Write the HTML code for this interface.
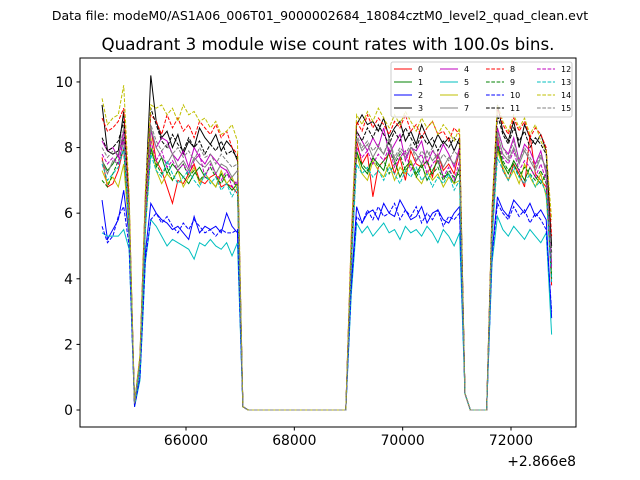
<!DOCTYPE html>
<html><head><meta charset="utf-8"><style>
body{margin:0;background:#fff}
svg{display:block;font-family:"DejaVu Sans","Liberation Sans",sans-serif}
</style></head><body>
<svg id="chart" width="640" height="480" viewBox="0 0 640 480">
<rect width="640" height="480" fill="#fff"/>
<text x="320" y="20" font-size="12.5" text-anchor="middle">Data file: modeM0/AS1A06_006T01_9000002684_18084cztM0_level2_quad_clean.evt</text>
<text x="328" y="50" font-size="16.7" text-anchor="middle">Quadrant 3 module wise count rates with 100.0s bins.</text>
<g id="plot"></g>
<rect x="80" y="58" width="496" height="369" fill="none" stroke="#000" stroke-width="1"/>
<g id="axes"></g>
<text x="576" y="466" font-size="13.9" text-anchor="end">+2.866e8</text>
<g id="legend"></g>
</svg>
<script>
const binStart = 64450;
const binWidth = 100;
const xTicks = [66000, 68000, 70000, 72000];
const xTickLabels = ["66000", "68000", "70000", "72000"];
const yTicks = [0, 2, 4, 6, 8, 10];
const yTickLabels = ["0", "2", "4", "6", "8", "10"];
const seriesNames = ["0","1","2","3","4","5","6","7","8","9","10","11","12","13","14","15"];
const s0 = [7.7,6.8,6.9,7.3,8.0,5.5,0.2,1.4,5.8,8.6,7.6,7.3,6.8,6.3,7.0,6.9,7.2,7.5,7.0,6.9,7.1,7.2,6.8,6.9,6.8,6.6,0.1,0,0,0,0,0,0,0,0,0,0,0,0,0,0,0,0,0,0,0,4.5,8.2,7.5,7.8,6.5,7.4,7.6,7.8,7.2,7.7,7.0,7.9,7.5,7.4,7.6,7.1,7.8,7.3,7.5,7.2,7.9,0.5,0,0,0,0,5.5,8.3,7.3,7.0,7.5,7.2,6.8,8.4,7.2,7.0,6.8,3.8];
const s1 = [7.6,7.3,7.5,7.8,8.3,5.8,0.2,1.3,5.6,8.0,7.4,7.7,7.2,7.5,7.3,7.1,6.9,7.2,7.4,7.1,7.0,6.8,7.2,6.9,6.7,6.9,0.1,0,0,0,0,0,0,0,0,0,0,0,0,0,0,0,0,0,0,0,4.3,7.9,7.4,7.2,7.7,7.5,7.3,7.9,7.6,7.1,7.4,7.6,7.2,7.5,7.0,7.3,7.6,7.1,7.2,6.9,7.4,0.5,0,0,0,0,5.3,8.0,7.5,7.2,7.6,7.3,7.0,7.4,7.1,6.9,7.2,4.0];
const s2 = [6.4,5.2,5.5,5.8,6.7,5.3,0.1,1.0,4.8,6.3,6.0,5.8,5.7,5.5,5.6,5.4,5.2,5.9,5.4,5.6,5.5,5.6,5.4,6.0,5.6,5.4,0.1,0,0,0,0,0,0,0,0,0,0,0,0,0,0,0,0,0,0,0,3.8,6.2,5.7,6.0,6.1,5.8,6.3,6.0,5.9,6.4,6.1,5.8,5.9,6.2,5.7,6.0,6.1,5.8,5.7,6.0,6.2,0.5,0,0,0,0,4.8,6.5,6.1,5.9,6.4,6.2,6.0,6.3,5.9,6.1,5.8,2.8];
const s3 = [9.3,7.9,7.8,7.9,9.1,6.3,0.2,1.6,6.5,10.2,8.8,8.3,8.5,8.0,8.4,7.8,8.2,8.0,8.6,8.3,8.1,8.4,7.9,8.2,8.0,7.6,0.1,0,0,0,0,0,0,0,0,0,0,0,0,0,0,0,0,0,0,0,5.0,8.7,9.0,8.7,8.8,8.5,8.9,8.3,8.6,8.8,8.2,8.5,8.1,8.7,8.3,8.0,8.4,8.1,8.3,7.9,8.3,0.5,0,0,0,0,6.0,9.3,8.5,8.2,8.8,8.0,8.7,8.3,8.1,8.4,7.9,5.0];
const s4 = [8.2,7.9,8.0,7.7,8.5,6.0,0.2,1.5,6.2,8.5,8.0,8.3,8.2,7.8,7.6,7.9,7.4,8.0,7.7,7.5,7.8,7.6,7.4,7.3,7.0,6.9,0.1,0,0,0,0,0,0,0,0,0,0,0,0,0,0,0,0,0,0,0,4.8,8.5,8.2,7.9,8.3,8.0,8.6,7.8,8.1,8.4,7.6,8.0,7.9,8.2,7.5,7.9,7.7,8.1,7.8,7.4,8.0,0.5,0,0,0,0,5.8,8.6,8.0,7.8,8.3,7.6,8.1,7.9,7.5,7.9,7.2,4.5];
const s5 = [5.4,5.3,5.3,5.3,5.5,4.9,0.1,0.9,4.5,5.8,5.6,5.3,5.0,5.2,5.1,5.0,4.9,4.6,5.1,5.0,5.2,5.0,4.9,5.1,4.7,5.1,0.1,0,0,0,0,0,0,0,0,0,0,0,0,0,0,0,0,0,0,0,3.5,5.7,5.4,5.6,5.3,5.5,5.7,5.4,5.5,5.2,5.6,5.4,5.5,5.3,5.6,5.4,5.1,5.5,5.3,5.0,5.4,0.5,0,0,0,0,4.5,5.9,5.5,5.3,5.6,5.4,5.2,5.5,5.3,5.1,5.4,2.3];
const s6 = [7.3,6.9,7.1,6.8,7.5,5.4,0.2,1.3,5.5,8.3,7.3,6.9,7.2,7.0,7.3,6.8,7.1,7.4,6.9,7.2,7.0,6.8,7.3,6.9,7.1,6.7,0.1,0,0,0,0,0,0,0,0,0,0,0,0,0,0,0,0,0,0,0,4.4,7.8,7.2,7.0,7.6,7.3,7.1,7.5,7.0,7.4,7.2,7.6,7.1,6.9,7.3,7.0,7.2,6.8,7.1,6.9,7.0,0.5,0,0,0,0,5.2,7.9,7.4,7.0,7.3,6.9,7.5,7.1,6.8,7.2,6.5,4.2];
const s7 = [7.6,7.2,7.6,7.5,8.2,5.9,0.2,1.4,5.9,8.6,8.0,7.7,7.5,7.8,7.4,7.6,7.3,7.7,7.5,7.4,7.6,7.2,7.5,7.4,7.1,7.3,0.1,0,0,0,0,0,0,0,0,0,0,0,0,0,0,0,0,0,0,0,4.7,8.3,7.9,8.1,7.7,8.0,7.8,8.2,7.6,7.9,7.7,8.0,7.8,7.5,7.9,7.6,7.8,7.4,7.7,7.5,7.8,0.5,0,0,0,0,5.6,8.4,7.8,7.6,8.0,7.5,7.9,7.6,7.3,7.7,7.4,4.4];
const s8 = [8.9,8.5,8.6,8.8,9.2,6.4,0.2,1.6,6.5,9.0,8.8,8.4,9.0,8.6,8.9,8.5,8.7,8.3,8.8,8.6,8.4,8.7,8.3,8.5,8.0,7.8,0.1,0,0,0,0,0,0,0,0,0,0,0,0,0,0,0,0,0,0,0,5.2,8.8,8.5,9.0,8.6,8.9,8.7,8.4,8.8,8.6,9.0,8.5,8.7,8.3,8.6,8.8,8.4,8.5,8.2,8.6,8.4,0.5,0,0,0,0,6.1,9.2,8.7,8.4,8.9,8.5,8.8,8.3,8.6,8.4,8.0,5.3];
const s9 = [7.0,6.8,7.2,7.6,7.9,5.7,0.2,1.3,5.6,7.9,7.5,7.2,7.4,7.0,7.3,7.5,7.1,7.3,7.0,7.2,7.4,7.1,6.9,7.2,7.0,6.8,0.1,0,0,0,0,0,0,0,0,0,0,0,0,0,0,0,0,0,0,0,4.5,7.8,7.5,7.3,7.7,7.4,7.6,7.2,7.5,7.8,7.3,7.5,7.1,7.4,7.6,7.2,7.4,7.0,7.3,7.1,7.2,0.5,0,0,0,0,5.4,8.1,7.6,7.3,7.5,7.1,7.4,7.2,7.0,7.3,6.9,4.1];
const s10 = [5.6,5.1,5.3,5.9,6.2,5.0,0.1,1.0,4.6,5.8,6.0,5.7,5.9,5.6,5.4,5.7,5.5,5.8,5.6,5.4,5.5,5.3,5.5,5.4,5.4,5.5,0.1,0,0,0,0,0,0,0,0,0,0,0,0,0,0,0,0,0,0,0,3.7,5.9,5.7,6.1,5.8,6.2,5.9,6.0,6.3,5.8,6.1,5.9,6.2,5.7,6.0,5.8,6.1,5.6,5.9,5.8,6.0,0.5,0,0,0,0,4.7,6.3,6.0,5.8,6.2,5.9,6.1,5.7,6.0,5.8,5.5,3.0];
const s11 = [8.3,7.9,8.0,8.2,8.8,6.1,0.2,1.5,6.3,9.2,8.7,8.2,8.0,8.4,8.1,7.9,8.3,8.0,8.2,7.8,8.1,7.9,8.2,7.8,7.9,7.7,0.1,0,0,0,0,0,0,0,0,0,0,0,0,0,0,0,0,0,0,0,4.9,8.5,8.2,8.6,8.3,8.7,8.4,8.1,8.5,8.2,8.6,8.3,8.0,8.4,8.1,8.3,7.9,8.2,8.0,8.3,8.1,0.5,0,0,0,0,5.9,9.0,8.4,8.1,8.6,8.2,8.5,8.0,8.3,8.1,7.8,4.8];
const s12 = [7.8,7.5,7.7,7.5,8.3,5.9,0.2,1.4,6.0,8.2,7.6,7.9,7.4,7.6,7.3,7.5,7.2,7.6,7.8,7.1,7.5,7.2,7.0,7.3,6.8,7.0,0.1,0,0,0,0,0,0,0,0,0,0,0,0,0,0,0,0,0,0,0,4.6,8.0,7.7,7.9,7.5,7.8,7.6,8.0,7.4,7.7,7.9,7.3,7.6,7.8,7.2,7.5,7.7,7.1,7.4,7.0,7.6,0.5,0,0,0,0,5.5,8.2,7.7,7.5,7.9,7.3,7.6,7.4,7.1,7.5,7.0,4.3];
const s13 = [7.5,7.0,7.2,7.4,8.0,5.6,0.2,1.3,5.5,7.8,7.3,7.1,7.6,7.2,6.9,7.1,7.3,7.0,6.8,7.2,6.9,7.1,6.7,6.9,6.5,6.8,0.1,0,0,0,0,0,0,0,0,0,0,0,0,0,0,0,0,0,0,0,4.4,7.5,7.2,7.4,7.1,7.3,7.0,7.4,7.2,6.9,7.3,7.1,7.4,7.0,7.2,6.8,7.1,6.9,7.2,6.7,7.0,0.5,0,0,0,0,5.2,7.7,7.3,7.0,7.4,7.1,6.9,7.2,6.8,7.0,6.6,3.9];
const s14 = [9.5,8.7,8.9,9.0,9.9,6.6,0.2,1.7,6.7,9.3,9.2,9.3,9.0,9.2,8.8,9.3,9.0,9.1,8.8,8.9,8.6,8.8,8.4,8.5,8.7,8.2,0.1,0,0,0,0,0,0,0,0,0,0,0,0,0,0,0,0,0,0,0,5.3,9.0,8.7,9.1,8.8,9.2,8.9,8.6,9.0,8.7,9.1,8.8,8.5,8.9,8.6,8.8,8.4,8.7,8.5,8.2,8.6,0.5,0,0,0,0,6.2,9.3,8.8,8.5,9.0,8.6,8.9,8.4,8.7,8.2,7.9,5.8];
const s15 = [8.0,7.7,7.9,7.8,8.6,6.0,0.2,1.5,6.1,8.7,8.2,7.9,8.1,7.8,8.0,7.7,7.9,7.6,8.0,7.7,7.8,7.5,7.8,7.6,7.4,7.5,0.1,0,0,0,0,0,0,0,0,0,0,0,0,0,0,0,0,0,0,0,4.8,8.4,8.0,8.2,7.9,8.1,7.8,8.3,7.7,8.0,7.8,8.1,7.6,7.9,7.7,8.0,7.5,7.8,7.6,7.9,7.7,0.5,0,0,0,0,5.7,8.5,8.0,7.7,8.2,7.6,8.0,7.7,7.4,7.8,7.3,4.6];
const allSeries = [s0,s1,s2,s3,s4,s5,s6,s7,s8,s9,s10,s11,s12,s13,s14,s15];
const colors = ["#ff0000","#008000","#0000ff","#000000","#bf00bf","#00bfbf","#bfbf00","#808080"];

const NS = "http://www.w3.org/2000/svg";
const X0 = 80, X1 = 576, Y0 = 58, Y1 = 427;
const xMin = 64043, xMax = 73200, yMin = -0.518, yMax = 10.73;
function xScale(v){ return X0 + (v - xMin) / (xMax - xMin) * (X1 - X0); }
function yScale(v){ return Y1 - (v - yMin) / (yMax - yMin) * (Y1 - Y0); }
function mk(tag, attrs){ const e = document.createElementNS(NS, tag); for (const k in attrs) e.setAttribute(k, attrs[k]); return e; }

const plot = document.getElementById("plot");
allSeries.forEach((s, si) => {
  const pts = s.map((v, i) => xScale(binStart + i * binWidth).toFixed(2) + "," + yScale(v).toFixed(2)).join(" ");
  const pl = mk("polyline", {points: pts, fill: "none", stroke: colors[si % 8], "stroke-width": 1});
  if (si >= 8) pl.setAttribute("stroke-dasharray", "3.7,1.6");
  
  
  plot.appendChild(pl);
});

const axes = document.getElementById("axes");
xTicks.forEach((t, i) => {
  const x = xScale(t);
  const tk = mk("line", {x1: x, x2: x, y1: Y1, y2: Y1 + 3.5, stroke: "#000"});
  
  
  axes.appendChild(tk);
  const lb = mk("text", {x: x, y: Y1 + 18, "font-size": 13.9, "text-anchor": "middle"});
  lb.textContent = xTickLabels[i];
  
  
  axes.appendChild(lb);
});
yTicks.forEach((t, i) => {
  const y = yScale(t);
  const tk = mk("line", {x1: X0 - 3.5, x2: X0, y1: y, y2: y, stroke: "#000"});
  
  
  axes.appendChild(tk);
  const lb = mk("text", {x: X0 - 7, y: y + 5, "font-size": 13.9, "text-anchor": "end"});
  lb.textContent = yTickLabels[i];
  
  
  axes.appendChild(lb);
});

const legend = document.getElementById("legend");
const lbox = mk("rect", {x: 391, y: 62, width: 181, height: 55, rx: 2, fill: "#fff", "fill-opacity": 0.8, stroke: "#ccc"});


legend.appendChild(lbox);
const colX = [394, 440, 486, 537];
const rowY = [69, 82, 95, 108];
seriesNames.forEach((n, si) => {
  const cx = colX[Math.floor(si / 4)], cy = rowY[si % 4];
  const ln = mk("line", {x1: cx, x2: cx + 18, y1: cy, y2: cy, stroke: colors[si % 8], "stroke-width": 1});
  if (si >= 8) ln.setAttribute("stroke-dasharray", "3.7,1.6");
  
  
  legend.appendChild(ln);
  const tx = mk("text", {x: cx + 24, y: cy + 3, "font-size": 8});
  tx.textContent = n;
  
  
  legend.appendChild(tx);
});
</script>
</body></html>
